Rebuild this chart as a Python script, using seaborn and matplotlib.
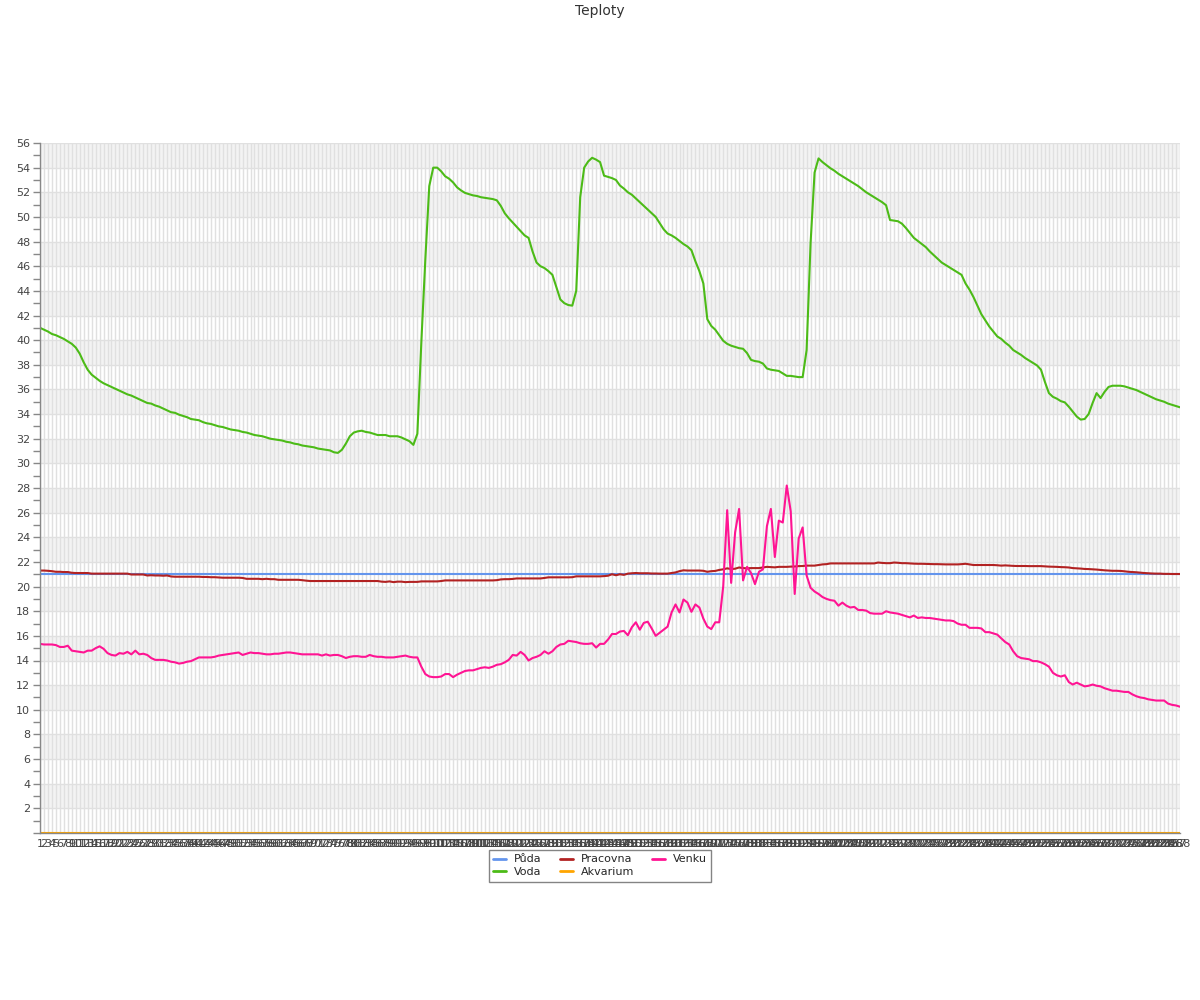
import matplotlib
matplotlib.use("Agg")
import matplotlib.pyplot as plt
import numpy as np
import pandas as pd
import seaborn as sns
from matplotlib.lines import Line2D
from matplotlib.ticker import MultipleLocator

# ---------------- data ----------------
series_names = ["Půda", "Voda", "Pracovna", "Akvarium", "Venku"]
series_colors = ["#6495ed", "#4cbb17", "#b22222", "#ffa500", "#ff1493"]

x_labels = [str(i) for i in range(1, 289)]

puda = [
    21.0, 21.0, 21.0, 21.0, 21.0, 21.0, 21.0, 21.0, 21.0, 21.0, 21.0, 21.0, 21.0, 21.0, 21.0, 21.0, 21.0, 21.0, 21.0, 21.0, 21.0, 21.0, 21.0, 21.0,
    21.0, 21.0, 21.0, 21.0, 21.0, 21.0, 21.0, 21.0, 21.0, 21.0, 21.0, 21.0, 21.0, 21.0, 21.0, 21.0, 21.0, 21.0, 21.0, 21.0, 21.0, 21.0, 21.0, 21.0,
    21.0, 21.0, 21.0, 21.0, 21.0, 21.0, 21.0, 21.0, 21.0, 21.0, 21.0, 21.0, 21.0, 21.0, 21.0, 21.0, 21.0, 21.0, 21.0, 21.0, 21.0, 21.0, 21.0, 21.0,
    21.0, 21.0, 21.0, 21.0, 21.0, 21.0, 21.0, 21.0, 21.0, 21.0, 21.0, 21.0, 21.0, 21.0, 21.0, 21.0, 21.0, 21.0, 21.0, 21.0, 21.0, 21.0, 21.0, 21.0,
    21.0, 21.0, 21.0, 21.0, 21.0, 21.0, 21.0, 21.0, 21.0, 21.0, 21.0, 21.0, 21.0, 21.0, 21.0, 21.0, 21.0, 21.0, 21.0, 21.0, 21.0, 21.0, 21.0, 21.0,
    21.0, 21.0, 21.0, 21.0, 21.0, 21.0, 21.0, 21.0, 21.0, 21.0, 21.0, 21.0, 21.0, 21.0, 21.0, 21.0, 21.0, 21.0, 21.0, 21.0, 21.0, 21.0, 21.0, 21.0,
    21.0, 21.0, 21.0, 21.0, 21.0, 21.0, 21.0, 21.0, 21.0, 21.0, 21.0, 21.0, 21.0, 21.0, 21.0, 21.0, 21.0, 21.0, 21.0, 21.0, 21.0, 21.0, 21.0, 21.0,
    21.0, 21.0, 21.0, 21.0, 21.0, 21.0, 21.0, 21.0, 21.0, 21.0, 21.0, 21.0, 21.0, 21.0, 21.0, 21.0, 21.0, 21.0, 21.0, 21.0, 21.0, 21.0, 21.0, 21.0,
    21.0, 21.0, 21.0, 21.0, 21.0, 21.0, 21.0, 21.0, 21.0, 21.0, 21.0, 21.0, 21.0, 21.0, 21.0, 21.0, 21.0, 21.0, 21.0, 21.0, 21.0, 21.0, 21.0, 21.0,
    21.0, 21.0, 21.0, 21.0, 21.0, 21.0, 21.0, 21.0, 21.0, 21.0, 21.0, 21.0, 21.0, 21.0, 21.0, 21.0, 21.0, 21.0, 21.0, 21.0, 21.0, 21.0, 21.0, 21.0,
    21.0, 21.0, 21.0, 21.0, 21.0, 21.0, 21.0, 21.0, 21.0, 21.0, 21.0, 21.0, 21.0, 21.0, 21.0, 21.0, 21.0, 21.0, 21.0, 21.0, 21.0, 21.0, 21.0, 21.0,
    21.0, 21.0, 21.0, 21.0, 21.0, 21.0, 21.0, 21.0, 21.0, 21.0, 21.0, 21.0, 21.0, 21.0, 21.0, 21.0, 21.0, 21.0, 21.0, 21.0, 21.0, 21.0, 21.0, 21.0,
]

akvarium = [
    0.0, 0.0, 0.0, 0.0, 0.0, 0.0, 0.0, 0.0, 0.0, 0.0, 0.0, 0.0, 0.0, 0.0, 0.0, 0.0, 0.0, 0.0, 0.0, 0.0, 0.0, 0.0, 0.0, 0.0,
    0.0, 0.0, 0.0, 0.0, 0.0, 0.0, 0.0, 0.0, 0.0, 0.0, 0.0, 0.0, 0.0, 0.0, 0.0, 0.0, 0.0, 0.0, 0.0, 0.0, 0.0, 0.0, 0.0, 0.0,
    0.0, 0.0, 0.0, 0.0, 0.0, 0.0, 0.0, 0.0, 0.0, 0.0, 0.0, 0.0, 0.0, 0.0, 0.0, 0.0, 0.0, 0.0, 0.0, 0.0, 0.0, 0.0, 0.0, 0.0,
    0.0, 0.0, 0.0, 0.0, 0.0, 0.0, 0.0, 0.0, 0.0, 0.0, 0.0, 0.0, 0.0, 0.0, 0.0, 0.0, 0.0, 0.0, 0.0, 0.0, 0.0, 0.0, 0.0, 0.0,
    0.0, 0.0, 0.0, 0.0, 0.0, 0.0, 0.0, 0.0, 0.0, 0.0, 0.0, 0.0, 0.0, 0.0, 0.0, 0.0, 0.0, 0.0, 0.0, 0.0, 0.0, 0.0, 0.0, 0.0,
    0.0, 0.0, 0.0, 0.0, 0.0, 0.0, 0.0, 0.0, 0.0, 0.0, 0.0, 0.0, 0.0, 0.0, 0.0, 0.0, 0.0, 0.0, 0.0, 0.0, 0.0, 0.0, 0.0, 0.0,
    0.0, 0.0, 0.0, 0.0, 0.0, 0.0, 0.0, 0.0, 0.0, 0.0, 0.0, 0.0, 0.0, 0.0, 0.0, 0.0, 0.0, 0.0, 0.0, 0.0, 0.0, 0.0, 0.0, 0.0,
    0.0, 0.0, 0.0, 0.0, 0.0, 0.0, 0.0, 0.0, 0.0, 0.0, 0.0, 0.0, 0.0, 0.0, 0.0, 0.0, 0.0, 0.0, 0.0, 0.0, 0.0, 0.0, 0.0, 0.0,
    0.0, 0.0, 0.0, 0.0, 0.0, 0.0, 0.0, 0.0, 0.0, 0.0, 0.0, 0.0, 0.0, 0.0, 0.0, 0.0, 0.0, 0.0, 0.0, 0.0, 0.0, 0.0, 0.0, 0.0,
    0.0, 0.0, 0.0, 0.0, 0.0, 0.0, 0.0, 0.0, 0.0, 0.0, 0.0, 0.0, 0.0, 0.0, 0.0, 0.0, 0.0, 0.0, 0.0, 0.0, 0.0, 0.0, 0.0, 0.0,
    0.0, 0.0, 0.0, 0.0, 0.0, 0.0, 0.0, 0.0, 0.0, 0.0, 0.0, 0.0, 0.0, 0.0, 0.0, 0.0, 0.0, 0.0, 0.0, 0.0, 0.0, 0.0, 0.0, 0.0,
    0.0, 0.0, 0.0, 0.0, 0.0, 0.0, 0.0, 0.0, 0.0, 0.0, 0.0, 0.0, 0.0, 0.0, 0.0, 0.0, 0.0, 0.0, 0.0, 0.0, 0.0, 0.0, 0.0, 0.0,
]

voda = [
    41.0, 40.85, 40.7, 40.5, 40.4, 40.25, 40.1, 39.9, 39.7, 39.4,
    38.9, 38.2, 37.6, 37.2, 36.95, 36.7, 36.5, 36.35, 36.2, 36.05,
    35.9, 35.75, 35.6, 35.5, 35.35, 35.2, 35.05, 34.9, 34.85, 34.7,
    34.6, 34.45, 34.3, 34.15, 34.1, 33.95, 33.85, 33.75, 33.6, 33.55,
    33.5, 33.35, 33.25, 33.2, 33.1, 33.0, 32.95, 32.85, 32.75, 32.7,
    32.65, 32.55, 32.5, 32.4, 32.3, 32.25, 32.2, 32.1, 32.0, 31.95,
    31.9, 31.85, 31.75, 31.7, 31.6, 31.55, 31.45, 31.4, 31.35, 31.3,
    31.2, 31.15, 31.1, 31.05, 30.9, 30.85, 31.1, 31.6, 32.2, 32.5,
    32.6, 32.65, 32.55, 32.5, 32.4, 32.3, 32.3, 32.3, 32.2, 32.2,
    32.2, 32.1, 31.95, 31.8, 31.5, 32.4, 39.8, 46.5, 52.5, 54.0,
    54.0, 53.7, 53.3, 53.1, 52.8, 52.4, 52.15, 51.95, 51.85, 51.75,
    51.7, 51.6, 51.55, 51.5, 51.45, 51.35, 50.9, 50.3, 49.9, 49.55,
    49.2, 48.85, 48.5, 48.3, 47.2, 46.3, 46.0, 45.85, 45.6, 45.3,
    44.3, 43.3, 43.0, 42.85, 42.8, 44.0, 51.6, 54.0, 54.5, 54.8,
    54.65, 54.45, 53.35, 53.25, 53.15, 53.0, 52.55, 52.3, 52.0, 51.8,
    51.5, 51.2, 50.9, 50.6, 50.3, 50.0, 49.5, 49.0, 48.65, 48.5,
    48.3, 48.05, 47.8, 47.6, 47.3, 46.4, 45.6, 44.6, 41.7, 41.15,
    40.85, 40.4, 39.95, 39.7, 39.55, 39.45, 39.35, 39.3, 38.95, 38.4,
    38.3, 38.25, 38.1, 37.7, 37.6, 37.55, 37.5, 37.3, 37.1, 37.1,
    37.05, 37.0, 37.0, 39.2, 47.9, 53.6, 54.75, 54.45, 54.2, 53.95,
    53.75, 53.5, 53.3, 53.1, 52.9, 52.7, 52.5, 52.25, 52.0, 51.8,
    51.6, 51.4, 51.2, 50.95, 49.75, 49.7, 49.65, 49.45, 49.1, 48.7,
    48.3, 48.05, 47.8, 47.55, 47.2, 46.9, 46.6, 46.3, 46.1, 45.9,
    45.7, 45.5, 45.3, 44.6, 44.1, 43.5, 42.8, 42.1, 41.6, 41.1,
    40.7, 40.3, 40.1, 39.8, 39.55, 39.2, 39.0, 38.8, 38.55, 38.35,
    38.15, 37.95, 37.6, 36.6, 35.7, 35.4, 35.25, 35.05, 34.95, 34.6,
    34.2, 33.8, 33.55, 33.6, 34.0, 34.9, 35.7, 35.3, 35.8, 36.2,
    36.3, 36.3, 36.3, 36.25, 36.15, 36.05, 35.95, 35.8, 35.65, 35.5,
    35.35, 35.2, 35.1, 35.0, 34.85, 34.75, 34.65, 34.55,
]

pracovna = [
    21.3, 21.3, 21.28, 21.25, 21.2, 21.2, 21.18, 21.18, 21.12, 21.1,
    21.1, 21.1, 21.1, 21.05, 21.05, 21.05, 21.05, 21.05, 21.05, 21.05,
    21.05, 21.05, 21.05, 20.98, 20.98, 20.98, 20.98, 20.9, 20.92, 20.9,
    20.9, 20.88, 20.9, 20.82, 20.8, 20.8, 20.8, 20.8, 20.8, 20.8,
    20.8, 20.78, 20.78, 20.76, 20.76, 20.74, 20.72, 20.72, 20.72, 20.72,
    20.72, 20.7, 20.63, 20.63, 20.63, 20.63, 20.6, 20.63, 20.6, 20.6,
    20.55, 20.55, 20.55, 20.55, 20.55, 20.55, 20.52, 20.48, 20.45, 20.45,
    20.45, 20.45, 20.45, 20.45, 20.45, 20.45, 20.45, 20.45, 20.45, 20.45,
    20.45, 20.45, 20.45, 20.45, 20.45, 20.45, 20.4, 20.38, 20.42, 20.36,
    20.4, 20.4, 20.36, 20.38, 20.38, 20.38, 20.42, 20.42, 20.42, 20.42,
    20.42, 20.45, 20.5, 20.5, 20.5, 20.5, 20.5, 20.5, 20.5, 20.5,
    20.5, 20.5, 20.5, 20.5, 20.5, 20.52, 20.58, 20.6, 20.6, 20.62,
    20.66, 20.66, 20.66, 20.66, 20.66, 20.66, 20.66, 20.7, 20.75, 20.75,
    20.75, 20.75, 20.75, 20.75, 20.76, 20.83, 20.83, 20.83, 20.83, 20.83,
    20.83, 20.83, 20.85, 20.88, 21.0, 20.92, 21.0, 20.95, 21.05, 21.08,
    21.1, 21.08, 21.08, 21.08, 21.06, 21.06, 21.05, 21.05, 21.05, 21.1,
    21.15, 21.25, 21.32, 21.3, 21.3, 21.3, 21.3, 21.28, 21.2, 21.25,
    21.27, 21.35, 21.4, 21.48, 21.42, 21.45, 21.55, 21.5, 21.48, 21.5,
    21.5, 21.5, 21.55, 21.6, 21.58, 21.56, 21.6, 21.6, 21.6, 21.62,
    21.63, 21.66, 21.67, 21.7, 21.7, 21.7, 21.75, 21.8, 21.82, 21.88,
    21.88, 21.88, 21.88, 21.88, 21.88, 21.88, 21.88, 21.88, 21.88, 21.88,
    21.88, 21.95, 21.92, 21.9, 21.9, 21.95, 21.93, 21.9, 21.9, 21.88,
    21.86, 21.85, 21.85, 21.84, 21.83, 21.82, 21.82, 21.81, 21.8, 21.8,
    21.8, 21.8, 21.82, 21.85, 21.8, 21.75, 21.75, 21.75, 21.75, 21.75,
    21.75, 21.73, 21.7, 21.72, 21.7, 21.68, 21.67, 21.67, 21.67, 21.66,
    21.66, 21.66, 21.66, 21.64, 21.62, 21.61, 21.6, 21.58, 21.57, 21.55,
    21.5, 21.48, 21.46, 21.43, 21.42, 21.4, 21.38, 21.35, 21.32, 21.3,
    21.28, 21.28, 21.27, 21.24, 21.2, 21.18, 21.16, 21.13, 21.1, 21.08,
    21.06, 21.05, 21.05, 21.03, 21.03, 21.02, 21.02, 21.02,
]

venku = [
    15.35, 15.3, 15.3, 15.3, 15.25, 15.1, 15.1, 15.2, 14.8, 14.75,
    14.7, 14.65, 14.8, 14.8, 15.0, 15.15, 14.95, 14.6, 14.45, 14.4,
    14.6, 14.55, 14.7, 14.5, 14.8, 14.5, 14.55, 14.45, 14.2, 14.05,
    14.05, 14.05, 14.0, 13.9, 13.85, 13.75, 13.8, 13.9, 13.95, 14.1,
    14.25, 14.25, 14.25, 14.25, 14.3, 14.4, 14.45, 14.5, 14.55, 14.6,
    14.65, 14.45, 14.55, 14.65, 14.6, 14.6, 14.55, 14.5, 14.5, 14.55,
    14.55, 14.6, 14.65, 14.65, 14.6, 14.55, 14.5, 14.5, 14.5, 14.5,
    14.5, 14.4, 14.5, 14.4, 14.45, 14.45, 14.35, 14.2, 14.3, 14.35,
    14.35, 14.3, 14.3, 14.45, 14.35, 14.3, 14.3, 14.25, 14.25, 14.25,
    14.3, 14.35, 14.4, 14.3, 14.25, 14.25, 13.5, 12.9, 12.7, 12.65,
    12.65, 12.7, 12.9, 12.9, 12.65, 12.85, 13.0, 13.15, 13.2, 13.2,
    13.3, 13.4, 13.45, 13.4, 13.5, 13.65, 13.7, 13.85, 14.05, 14.45,
    14.4, 14.7, 14.45, 14.0, 14.2, 14.3, 14.45, 14.75, 14.55, 14.75,
    15.1, 15.3, 15.35, 15.6, 15.55, 15.5, 15.4, 15.35, 15.35, 15.4,
    15.05, 15.35, 15.35, 15.7, 16.15, 16.15, 16.35, 16.4, 16.05, 16.7,
    17.1, 16.5, 17.05, 17.15, 16.6, 16.0, 16.25, 16.5, 16.75, 17.9,
    18.55, 17.9, 18.95, 18.7, 17.95, 18.55, 18.3, 17.4, 16.75, 16.55,
    17.1, 17.1, 20.0, 26.2, 20.3, 24.4, 26.3, 20.5, 21.6, 21.1,
    20.2, 21.2, 21.4, 24.9, 26.3, 22.4, 25.35, 25.2, 28.2, 26.1,
    19.4, 23.9, 24.8, 20.9, 19.9, 19.6, 19.4, 19.15, 19.0, 18.9,
    18.85, 18.45, 18.7, 18.45, 18.3, 18.35, 18.1, 18.1, 18.05, 17.85,
    17.8, 17.8, 17.8, 18.0, 17.9, 17.85, 17.8, 17.7, 17.6, 17.5,
    17.65, 17.45, 17.5, 17.45, 17.45, 17.4, 17.35, 17.3, 17.25, 17.25,
    17.2, 17.0, 16.9, 16.9, 16.65, 16.65, 16.65, 16.6, 16.3, 16.3,
    16.2, 16.1, 15.8, 15.5, 15.3, 14.75, 14.35, 14.2, 14.15, 14.1,
    13.95, 13.95, 13.85, 13.7, 13.5, 13.0, 12.8, 12.7, 12.8, 12.25,
    12.05, 12.2, 12.05, 11.9, 11.95, 12.05, 11.95, 11.9, 11.75, 11.65,
    11.55, 11.55, 11.5, 11.45, 11.45, 11.25, 11.1, 11.0, 10.95, 10.85,
    10.8, 10.75, 10.75, 10.75, 10.5, 10.4, 10.35, 10.25,
]

series_values = [puda, voda, pracovna, akvarium, venku]
for s in series_values:
    assert len(s) == len(x_labels), len(s)

# --------------- long-form table for seaborn ---------------
rows = []
for name, vals in zip(series_names, series_values):
    for i, v in enumerate(vals):
        rows.append((i, v, name))
df = pd.DataFrame(rows, columns=["idx", "value", "series"])

# --------------- style ---------------
sns.set_style("white")
plt.rcParams["font.family"] = ["DejaVu Sans"]

fig = plt.figure(figsize=(12, 10), dpi=100)
ax = fig.add_axes([40 / 1200, 167 / 1000, 1140 / 1200, 690 / 1000])

# alternating bands
for lo in range(2, 56, 4):
    ax.axhspan(lo, lo + 2, color="#f3f3f3", lw=0, zorder=0)

palette = dict(zip(series_names, series_colors))
sns.lineplot(data=df, x="idx", y="value", hue="series", hue_order=series_names,
             palette=palette, estimator=None, sort=False, linewidth=1.5,
             legend=False, ax=ax)

n = len(x_labels)
ax.set_xlim(0, n - 1)
ax.set_ylim(0, 56)
ax.set_xlabel("")
ax.set_ylabel("")

ax.set_xticks(range(n))
ax.set_xticklabels(x_labels, fontsize=8, color="#444444", rotation=0)
ax.tick_params(axis="x", length=0, pad=4)

yt = list(range(0, 57, 2))
ax.set_yticks(yt)
ax.set_yticklabels(["" if v == 0 else str(v) for v in yt])
ax.yaxis.set_minor_locator(MultipleLocator(1))
ax.tick_params(axis="y", which="both", left=True, length=5, width=1,
               color="#888888", labelsize=8, labelcolor="#444444", pad=2)

ax.grid(True, which="major", axis="both", color="#e0e0e0", lw=1)
ax.set_axisbelow(True)

for side in ["top", "right"]:
    ax.spines[side].set_visible(False)
for side in ["left", "bottom"]:
    ax.spines[side].set_color("#888888")
    ax.spines[side].set_linewidth(1)

fig.text(0.5, 0.989, "Teploty", ha="center", va="center", fontsize=10, color="#333333")

handles = [Line2D([0], [0], color=c, lw=2) for c in series_colors]
leg = fig.legend(handles, series_names, loc="upper center", bbox_to_anchor=(0.5, 0.150),
                 borderaxespad=0, ncol=3, fontsize=8, frameon=True, fancybox=False,
                 edgecolor="#666666", handlelength=1.2, handletextpad=0.7,
                 columnspacing=1.6, borderpad=0.4, labelspacing=0.25)
leg.get_frame().set_linewidth(1)

fig.savefig("out.png", dpi=100)
